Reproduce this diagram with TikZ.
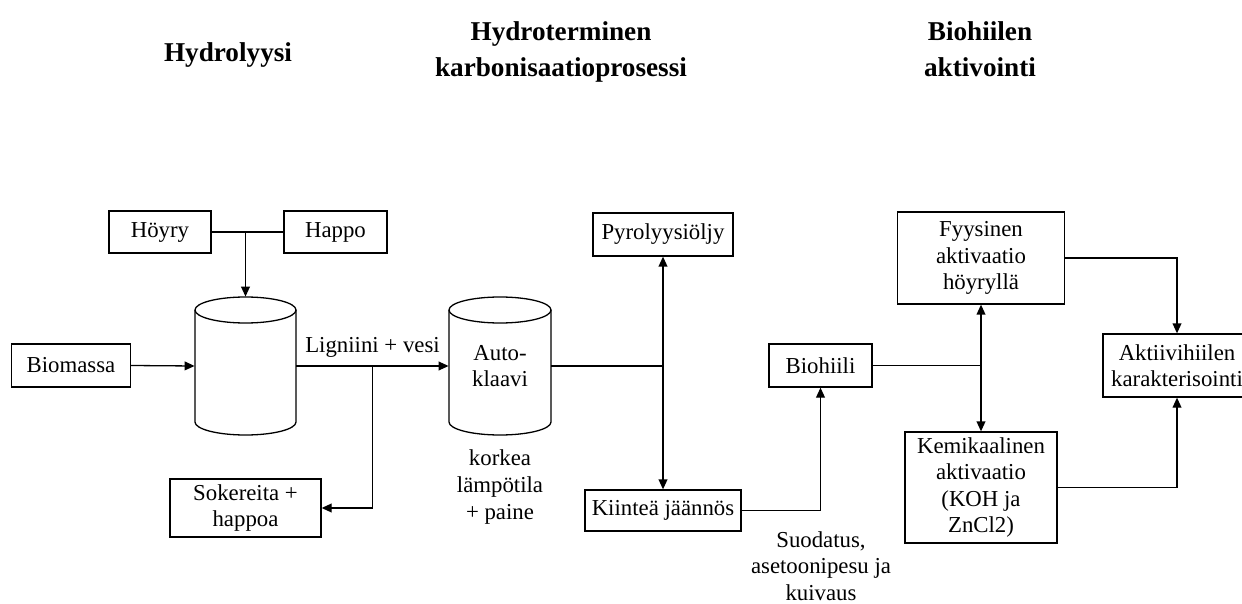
\documentclass[tikz,border=0pt]{standalone}
\usepackage{fontspec}
\setmainfont{Liberation Serif}
\usetikzlibrary{calc}
\usetikzlibrary{arrows.meta}

\begin{document}
\begin{tikzpicture}[x=0.5pt, y=-0.5pt]
  %--------------------------------------------
  % Tyylit
  %--------------------------------------------
  \def\lw{0.65pt}   % viivan paksuus
  \tikzstyle{box} = [
    draw, rectangle, line width=\lw, align=center,       % ohut kehys
    inner sep=0pt, font=\fontsize{11.4}{13.3}\selectfont % teksti
  ]
  \tikzstyle{label} = [align=center, inner sep=0pt,
    font=\fontsize{11.4}{13.3}\selectfont]
  \tikzstyle{title} = [align=center, inner sep=0pt,
    font=\fontsize{13.6}{18}\selectfont\bfseries]
  \tikzstyle{tank} = [rectangle, inner sep=0pt, align=center,
    font=\fontsize{11.4}{13.3}\selectfont]
  \tikzstyle{flow} = [line width=\lw, -{Triangle[length=5pt,width=4.4pt]}]
  \tikzstyle{link} = [line width=\lw]

  \useasboundingbox (0,0) rectangle (1242,604);

  %--------------------------------------------
  % Otsikot
  %--------------------------------------------
  \node[title] (t1) at (228,55)   {Hydrolyysi};
  \node[title] (t2) at (561,52)   {Hydroterminen\\karbonisaatioprosessi};
  \node[title] (t3) at (980,49)   {Biohiilen\\aktivointi};

  %--------------------------------------------
  % Laatikot (koot pisteinä = pikselit / 2)
  %--------------------------------------------
  \node[box, minimum width=51pt, minimum height=21pt] (hoyry)      at (160,232)    {Höyry};
  \node[box, minimum width=51.5pt, minimum height=21pt] (happo)    at (335.5,232)  {Happo};
  \node[box, minimum width=59.5pt, minimum height=21.5pt] (biomassa) at (71,365.5) {Biomassa};
  \node[box, minimum width=75.5pt, minimum height=29pt] (sokerit)  at (245.5,508)  {Sokereita +\\happoa};
  \node[box, minimum width=70pt, minimum height=21.5pt] (pyro)     at (663,234.5)  {Pyrolyysiöljy};
  \node[box, minimum width=78pt, minimum height=20.5pt] (kiintea)  at (663,510.5)  {Kiinteä jäännös};
  \node[box, minimum width=51.5pt, minimum height=21.5pt] (biohiili) at (820.5,365.5) {Biohiili};
  \node[box, minimum width=83.5pt, minimum height=46pt] (fyys)     at (981,258)    {Fyysinen\\aktivaatio\\höyryllä};
  \node[box, minimum width=76pt, minimum height=55.5pt] (kemi)     at (981,487.5)  {Kemikaalinen\\aktivaatio\\(KOH ja\\ZnCl2)};
  \node[box, minimum width=74pt, minimum height=31.5pt] (aktiiv)   at (1177,365.5) {Aktiivihiilen\\karakterisointi};

  %--------------------------------------------
  % Säiliöt (sylinterit)
  %--------------------------------------------
  \node[tank, minimum width=50.5pt, minimum height=69pt] (hydro) at (245.5,366) {};
  \node[tank, minimum width=51pt, minimum height=69pt] (auto)    at (500,366)   {Auto-\\klaavi};
  \foreach \cx/\w in {245.5/50.5, 500/51}
  {
    % kansi ja sivut
    \draw[link] (\cx,310) ellipse [x radius=\w, y radius=13];
    \draw[link] (\cx-\w,310) -- (\cx-\w,422)
      arc [start angle=180, end angle=0, x radius=\w, y radius=13]
      -- (\cx+\w,310);
  }

  %--------------------------------------------
  % Tekstit
  %--------------------------------------------
  \node[label] (olot) at (500,487) {korkea\\lämpötila\\+ paine};
  \node[label] (pesu) at (821,566) {Suodatus,\\asetoonipesu ja\\kuivaus};

  %--------------------------------------------
  % Yhteydet
  %--------------------------------------------
  \coordinate (j1) at (hydro.north |- hoyry.east);
  \draw[link] (hoyry.east) -- (happo.west);
  \draw[flow] (j1) -- (hydro.north);
  \draw[flow] (biomassa.east) -- (hydro.west);
  \draw[flow] (hydro.east) -- node[label, above=4pt] (lig) {Ligniini + vesi} (auto.west);
  \coordinate (j2) at ($(hydro.east)!0.5!(auto.west)$);
  \draw[flow] (j2) |- (sokerit.east);

  \coordinate (j3) at (pyro.south |- auto.east);
  \draw[link] (auto.east) -- (j3);
  \draw[flow] (j3) -- (pyro.south);
  \draw[flow] (j3) -- (kiintea.north);
  \draw[flow] (kiintea.east) -| (biohiili.south);

  \coordinate (j4) at (fyys.south |- biohiili.east);
  \draw[link] (biohiili.east) -- (j4);
  \draw[flow] (j4) -- (fyys.south);
  \draw[flow] (j4) -- (kemi.north);
  \draw[flow] (fyys.east) -| (aktiiv.north);
  \draw[flow] (kemi.east) -| (aktiiv.south);
\end{tikzpicture}
\end{document}
